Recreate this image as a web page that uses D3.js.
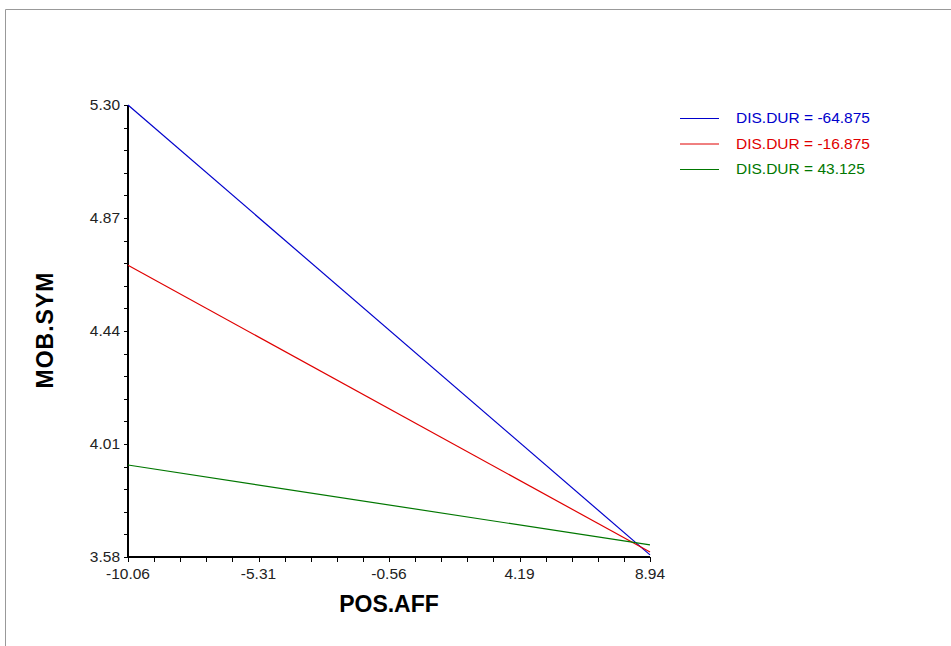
<!DOCTYPE html>
<html>
<head>
<meta charset="utf-8">
<script src="https://cdn.jsdelivr.net/npm/d3@7"></script>
<style>
  body { margin: 0; background: #fff; }
  text { font-family: "Liberation Sans", Arial, sans-serif; }
</style>
</head>
<body>
<div id="chart"></div>
<script>
// values
const xTicks = [-10.06, -5.31, -0.56, 4.19, 8.94];
const yTicks = [3.58, 4.01, 4.44, 4.87, 5.30];
const xEnds = [-10.06, 8.94];
const seriesNames = ['DIS.DUR = -64.875', 'DIS.DUR = -16.875', 'DIS.DUR = 43.125'];
const seriesColors = ['#0000cc', '#e00000', '#007700'];
const blueVals = [5.30, 3.588];
const redVals = [4.69, 3.599];
const greenVals = [3.93, 3.626];

const width = 951, height = 646;

const svg = d3.select('#chart').append('svg')
  .attr('width', width)
  .attr('height', height);

// frame
svg.append('path')
  .attr('d', `M5.5,${height} V9.5 H${width}`)
  .attr('fill', 'none')
  .attr('stroke', '#999')
  .attr('stroke-width', 1);

const x = d3.scaleLinear().domain([xTicks[0], xTicks[4]]).range([128, 650]);
const y = d3.scaleLinear().domain([yTicks[0], yTicks[4]]).range([557, 105]);

// minor ticks: 5 sub-intervals per major step
const sub = (ticks) => {
  const out = [];
  for (let i = 0; i < ticks.length - 1; i++) {
    for (let k = 1; k < 5; k++) out.push(ticks[i] + (ticks[i + 1] - ticks[i]) * k / 5);
  }
  return out;
};

const gx = svg.append('g').attr('transform', `translate(0,${y.range()[0]})`);
gx.append('line')
  .attr('x1', x.range()[0]).attr('x2', x.range()[1])
  .attr('stroke', '#000').attr('stroke-width', 2);
gx.selectAll('.tick')
  .data(xTicks.concat(sub(xTicks)))
  .join('line')
  .attr('x1', (d) => Math.round(x(d)) + 0.5).attr('x2', (d) => Math.round(x(d)) + 0.5)
  .attr('y1', 0).attr('y2', 5)
  .attr('stroke', '#000').attr('stroke-width', 1);
gx.selectAll('.lbl')
  .data(xTicks)
  .join('text')
  .attr('x', (d) => x(d))
  .attr('y', 22)
  .attr('text-anchor', 'middle')
  .attr('font-size', 15.5)
  .attr('fill', '#222')
  .text((d) => d.toFixed(2));

const gy = svg.append('g').attr('transform', `translate(${x.range()[0]},0)`);
gy.append('line')
  .attr('y1', y.range()[0]).attr('y2', y.range()[1])
  .attr('stroke', '#000').attr('stroke-width', 2);
gy.selectAll('.tick')
  .data(yTicks.concat(sub(yTicks)))
  .join('line')
  .attr('y1', (d) => Math.round(y(d)) + 0.5).attr('y2', (d) => Math.round(y(d)) + 0.5)
  .attr('x1', -4).attr('x2', 0)
  .attr('stroke', '#000').attr('stroke-width', 1);
gy.selectAll('.lbl')
  .data(yTicks)
  .join('text')
  .attr('x', -8)
  .attr('y', (d) => y(d))
  .attr('dy', '0.35em')
  .attr('text-anchor', 'end')
  .attr('font-size', 15.5)
  .attr('fill', '#222')
  .text((d) => d.toFixed(2));

// axis titles
svg.append('text')
  .attr('x', 389).attr('y', 612)
  .attr('text-anchor', 'middle')
  .attr('font-size', 23).attr('font-weight', 'bold')
  .text('POS.AFF');
svg.append('text')
  .attr('transform', 'translate(53,330) rotate(-90)')
  .attr('text-anchor', 'middle')
  .attr('font-size', 23).attr('font-weight', 'bold')
  .attr('letter-spacing', 1)
  .text('MOB.SYM');

// lines
const series = [blueVals, redVals, greenVals];
const line = d3.line().x((d, i) => x(xEnds[i])).y((d) => y(d));
svg.append('g').selectAll('path')
  .data(series)
  .join('path')
  .attr('d', line)
  .attr('fill', 'none')
  .attr('stroke', (d, i) => seriesColors[i])
  .attr('stroke-width', 1.2);

// legend
const legend = svg.append('g').attr('transform', 'translate(680,0)');
const item = legend.selectAll('g')
  .data(seriesNames)
  .join('g')
  .attr('transform', (d, i) => `translate(0,${118 + i * 25.5})`);
item.append('line')
  .attr('x1', 0).attr('x2', 39)
  .attr('y1', 0.5).attr('y2', 0.5)
  .attr('stroke', (d, i) => seriesColors[i])
  .attr('stroke-width', 1);
item.append('text')
  .attr('x', 56).attr('dy', '0.35em')
  .attr('font-size', 15.5)
  .attr('fill', (d, i) => seriesColors[i])
  .text((d) => d);
</script>
</body>
</html>
